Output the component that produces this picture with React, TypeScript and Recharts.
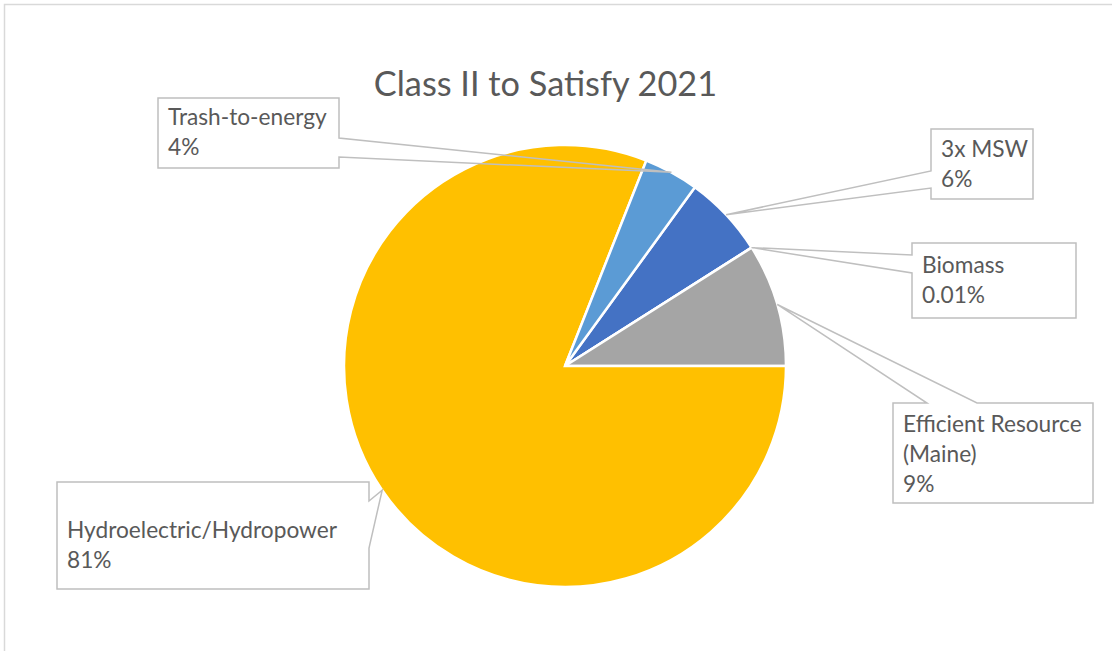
import React from 'react';
import { PieChart, Pie, Cell } from 'recharts';

// ---- data ----
const categories = ['3x MSW', 'Biomass', 'Efficient Resource (Maine)', 'Hydroelectric/Hydropower', 'Trash-to-energy'];
const shares = [6, 0.01, 9, 81, 4];
const shareLabels = ['6%', '0.01%', '9%', '81%', '4%'];
const colors = ['#4472C4', '#ED7D31', '#A5A5A5', '#FFC000', '#5B9BD5'];
const title = 'Class II to Satisfy 2021';

const data = categories.map((name, i) => ({ name, value: shares[i], pct: shareLabels[i] }));

// ---- label callout layout (positions of the boxes) ----
type Side = 'left' | 'right' | 'top';
const calloutLayout: { x: number; y: number; w: number; h: number; side: Side; b1: number; b2: number; base: number; wrap: boolean }[] = [
  { x: 931, y: 129, w: 102, h: 70, side: 'left', b1: 171, b2: 188, base: 28, wrap: false },
  { x: 912, y: 243, w: 164, h: 75, side: 'left', b1: 255, b2: 273, base: 30, wrap: false },
  { x: 893, y: 403, w: 200, h: 100, side: 'top', b1: 927, b2: 977, base: 29, wrap: true },
  { x: 57, y: 482, w: 312, h: 107, side: 'right', b1: 501, b2: 548, base: 56, wrap: false },
  { x: 158, y: 98, w: 181, h: 70, side: 'right', b1: 138, b2: 157, base: 27, wrap: false },
];

const FONT = 'Lato, "Open Sans", sans-serif';
const TEXT = '#595959';
const LINE_GAP = 30;
const RAD = Math.PI / 180;

function calloutPath(l: typeof calloutLayout[number], tx: number, ty: number) {
  const { x, y, w, h, side, b1, b2 } = l;
  const r = x + w;
  const b = y + h;
  const pts: [number, number][] = [];
  pts.push([x, y]);
  if (side === 'top') pts.push([b1, y], [tx, ty], [b2, y]);
  pts.push([r, y]);
  if (side === 'right') pts.push([r, b1], [tx, ty], [r, b2]);
  pts.push([r, b]);
  pts.push([x, b]);
  if (side === 'left') pts.push([x, b2], [tx, ty], [x, b1]);
  return 'M' + pts.map((p) => `${p[0]},${p[1]}`).join('L') + 'Z';
}

const renderLabel = (props: any) => {
  const { cx, cy, midAngle, outerRadius, index } = props;
  const l = calloutLayout[index];
  const tx = cx + outerRadius * Math.cos(-midAngle * RAD);
  const ty = cy + outerRadius * Math.sin(-midAngle * RAD);
  const name: string = categories[index];
  let lines: string[];
  if (l.wrap) {
    const k = name.lastIndexOf(' ');
    lines = [name.slice(0, k), name.slice(k + 1)];
  } else lines = [name];
  lines.push(shareLabels[index]);
  return (
    <g key={`lbl-${index}`}>
      <path d={calloutPath(l, tx, ty)} fill="none" stroke="#BFBFBF" strokeWidth={1.5} />
      {lines.map((t, i) => (
        <text
          key={i}
          x={l.x + 10}
          y={l.y + l.base + i * LINE_GAP}
          fill={TEXT}
          fontFamily={FONT}
          fontSize={22.7}
        >
          {t}
        </text>
      ))}
    </g>
  );
};

export default function App() {
  return (
    <div style={{ position: 'absolute', left: 0, top: 0, width: 1112, height: 651, background: '#fff' }}>
      <svg width={1112} height={651} style={{ position: 'absolute', left: 0, top: 0 }}>
        <rect x={4.5} y={4.5} width={1200} height={700} fill="#fff" stroke="#D9D9D9" strokeWidth={1.5} />
        <text x={545.5} y={96} textAnchor="middle" fill={TEXT} fontFamily={FONT} fontSize={34.3}>
          {title}
        </text>
      </svg>
      <div style={{ position: 'absolute', left: 0, top: 0 }}>
        <PieChart width={1112} height={651} margin={{ top: 0, right: 0, bottom: 0, left: 0 }}>
          <Pie
            data={data}
            dataKey="value"
            nameKey="name"
            cx={565}
            cy={366}
            outerRadius={221}
            startAngle={54}
            endAngle={-306}
            stroke="#FFFFFF"
            strokeWidth={2.5}
            label={renderLabel}
            labelLine={false}
            isAnimationActive={false}
          >
            {data.map((d, i) => (
              <Cell key={d.name} fill={colors[i]} />
            ))}
          </Pie>
        </PieChart>
      </div>
    </div>
  );
}
